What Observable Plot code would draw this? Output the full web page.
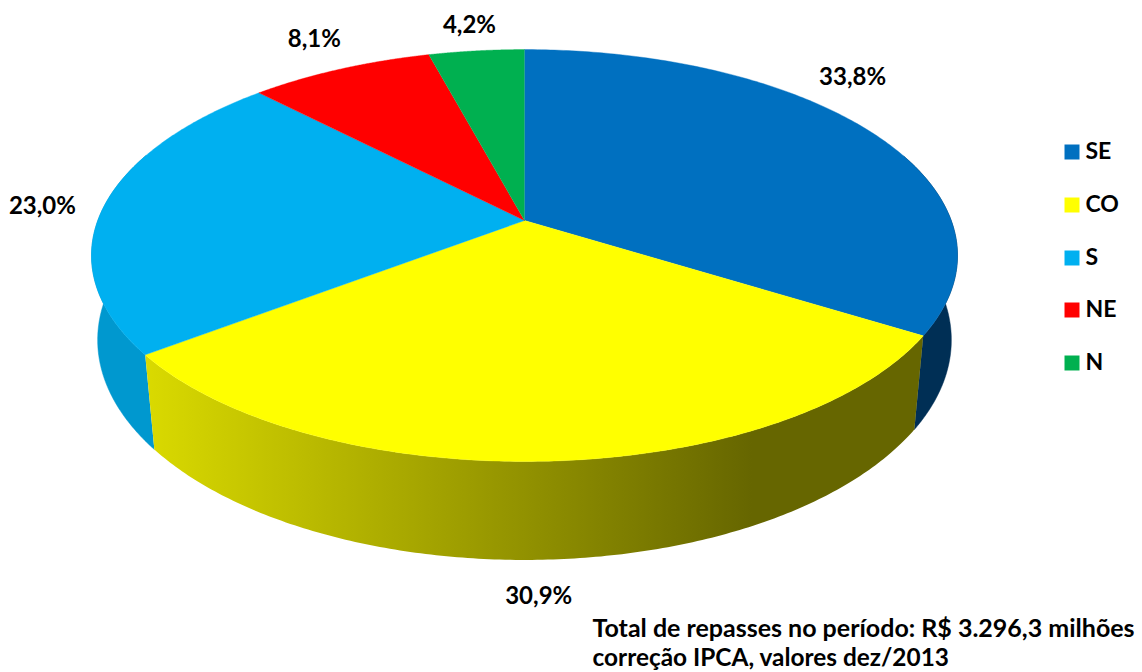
<!DOCTYPE html>
<html>
<head>
<meta charset="utf-8">
<script src="https://cdn.jsdelivr.net/npm/d3@7"></script>
<script src="https://cdn.jsdelivr.net/npm/@observablehq/plot@0.6"></script>
<style>
html,body{margin:0;padding:0;background:#fff}
svg{display:block}
</style>
</head>
<body>
<div id="chart"></div>
<script>
const regions = ["SE", "CO", "S", "NE", "N"];
const shares = [33.8, 30.9, 23.0, 8.1, 4.2];
const shareLabels = ["33,8%", "30,9%", "23,0%", "8,1%", "4,2%"];
const colors = ["#0070C0", "#FFFF00", "#00B0F0", "#FF0000", "#00B050"];
const caption = ["Total de repasses no período: R$ 3.296,3 milhões", "correção IPCA, valores dez/2013"];

// layout of the tilted disc
const W = 1142, H = 672, cx = 524, cy = 220, A = 426.7, B = 200;
const persp = 0.17, perspLow = 0.15, drop = 0.4325, shrink = 0.989, stretch = 1.075;
const FONT = "Lato, sans-serif";
const px = (v) => (v - cx) / A, py = (v) => (v - cy) / B;

const total = d3.sum(shares);
const rad = (pct) => (pct / total) * 2 * Math.PI;
let acc = 0;
const slices = regions.map((region, i) => {
  const start = acc; acc += shares[i];
  return {region, start, end: acc, label: shareLabels[i], color: colors[i]};
});

const upper = (a) => {
  const u = Math.sin(a), v = -Math.cos(a), w = 1 - persp * v;
  return {X: u / w, Y: v / w};
};
const lower = (a) => {
  const u = Math.sin(a), v = -Math.cos(a), w = 1 - perspLow * v;
  return {X: shrink * u / w, Y: drop + stretch * v / w};
};
const arc = (a0, a1, f) => d3.range(0, 181).map((i) => f(a0 + (a1 - a0) * i / 180));

const facePoints = slices.flatMap((s) =>
  [{X: 0, Y: 0}, ...arc(rad(s.start), rad(s.end), upper)].map((p) => ({...p, region: s.region}))
);
const sidePoints = (a0, a1) => [...arc(a0, a1, upper), ...arc(a0, a1, lower).reverse()];

const sideMark = (pts, fill) => Plot.line(pts, {x: "X", y: "Y", fill, stroke: fill === "url(#coSide)" ? "none" : fill, strokeWidth: 0.5});

const defs = () => {
  const d = d3.create("svg:defs");
  const g = d.append("linearGradient").attr("id", "coSide")
    .attr("x1", 0).attr("x2", 1).attr("y1", 0).attr("y2", 0);
  g.append("stop").attr("offset", 0).attr("stop-color", "#DADA00");
  g.append("stop").attr("offset", 0.78).attr("stop-color", "#666600");
  g.append("stop").attr("offset", 1).attr("stop-color", "#666600");
  return d.node();
};

// label offsets from each slice's rim midpoint
const labelShift = {SE: [-16, -53], CO: [-10, 135], S: [-62, 1], NE: [-26, -30], N: [-7, -26]};
const labelMarks = slices.map((s) => {
  const m = upper(rad((s.start + s.end) / 2));
  return Plot.text([{...m, t: s.label}], {
    x: "X", y: "Y", text: "t", dx: labelShift[s.region][0], dy: labelShift[s.region][1],
    fontSize: 24, fontWeight: 700, fontFamily: FONT, fill: "#000", textAnchor: "middle", lineAnchor: "middle"
  });
});

const legendY = [151.5, 204.5, 257.5, 309.5, 362.5];
const legendRows = regions.map((region, i) => ({region, X: px(1071.5), Y: py(legendY[i]), TX: px(1085)}));
const captionSizes = [25, 24.4];
const captionMarks = caption.map((t, i) => Plot.text([{t, X: px(592), Y: py(628 + 30 * i)}], {
  x: "X", y: "Y", text: "t", textAnchor: "start", fontSize: captionSizes[i], fontWeight: 700,
  fontFamily: FONT, fill: "#000", lineAnchor: "middle"
}));

const plot = Plot.plot({
  width: W, height: H, margin: 0,
  style: {background: "#fff", fontFamily: FONT},
  x: {domain: [px(0), px(W)], range: [0, W], axis: null},
  y: {domain: [py(0), py(H)], range: [0, H], axis: null},
  color: {domain: regions, range: colors},
  marks: [
    defs,
    sideMark(sidePoints(rad(33.8) - 0.9, rad(33.8)), "#002F55"),
    sideMark(sidePoints(rad(64.7), rad(64.7) + 1.0), "#0098CF"),
    sideMark(sidePoints(rad(33.8), rad(64.7)), "url(#coSide)"),
    Plot.line(facePoints, {x: "X", y: "Y", z: "region", fill: "region", stroke: "region", strokeWidth: 0.4}),
    ...labelMarks,
    Plot.dot(legendRows, {x: "X", y: "Y", symbol: "square", r: 8.46, fill: "region", stroke: "none"}),
    Plot.text(legendRows, {x: "TX", y: "Y", text: "region", textAnchor: "start", fontSize: 23, fontWeight: 700, fontFamily: FONT, fill: "#000", lineAnchor: "middle"}),
    ...captionMarks
  ]
});
document.getElementById("chart").append(plot);
</script>
</body>
</html>
